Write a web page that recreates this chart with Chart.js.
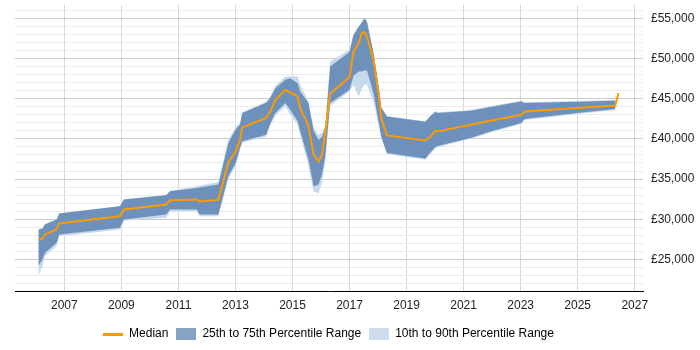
<!DOCTYPE html>
<html>
<script src="https://cdn.jsdelivr.net/npm/chart.js@4/dist/chart.umd.min.js"></script>
<style>
  body { margin: 0; background: #fff; }
</style>
<body>
<canvas id="myChart" width="700" height="350"></canvas>
<script>

// decimal years shared by every series
const years = [
  2006.09, 2006.23, 2006.32, 2006.73, 2006.82, 2008.95, 2009.09, 2010.57, 2010.71, 2011.65,
  2011.74, 2012.40, 2012.75, 2013.01, 2013.16, 2013.24, 2014.08, 2014.22, 2014.40, 2014.75,
  2014.92, 2015.18, 2015.27, 2015.56, 2015.74, 2015.91, 2016.03, 2016.15, 2016.32, 2017.00,
  2017.14, 2017.32, 2017.44, 2017.52, 2017.61, 2017.84, 2018.05, 2018.11, 2018.31, 2019.66,
  2019.83, 2020.01, 2020.09, 2021.24, 2021.94, 2023.02, 2023.14, 2024.98, 2026.32, 2026.43
];

const median = [
  27490, 27570, 28110, 28730, 29470, 30380, 31210, 31830, 32370, 32450,
  32200, 32410, 37080, 38450, 39900, 41420, 42590, 43410, 44860, 46100,
  45760, 45270, 43830, 41630, 38040, 37200, 38040, 40730, 45610, 47680,
  50850, 51900, 53210, 53260, 52720, 49830, 44860, 42590, 40430, 39800,
  40250, 41030, 40930, 41760, 42250, 43000, 43410, 43830, 44150, 45690
];

const p25 = [
  24170, 25000, 25840, 27080, 28110, 28940, 29970, 30590, 31210, 31210,
  30590, 30590, 35340, 37000, 38900, 39690, 40520, 41900, 43210, 44450,
  43620, 42200, 40950, 37420, 34100, 34310, 35500, 37830, 44450, 46100,
  47840, 48370, 48400, 48500, 48500, 45700, 41500, 40300, 38250, 37570,
  38300, 39000, 39100, 40110, 40900, 41970, 42460, 43210, 43710, null
];

const p75 = [
  28730, 28810, 29350, 29970, 30710, 31620, 32450, 32980, 33480, 33900,
  33950, 34310, 39490, 41200, 41800, 43210, 44500, 45100, 46310, 47340,
  47550, 46930, 45890, 44450, 41000, 39900, 40200, 41390, 48990, 50800,
  52930, 53960, 54500, 55000, 54580, 50700, 45800, 43900, 42790, 42130,
  42800, 43350, 43210, 43500, 43950, 44650, 44450, 44600, 44740, null
];

const p10 = [
  22930, 24100, 25410, 26660, 27900, 28730, 29800, 30180, 30950, 31000,
  30380, 30380, 35000, 36700, 38600, 39500, 40300, 41700, 42900, 44000,
  43000, 41800, 40500, 36580, 33480, 33200, 34500, 37200, 44100, 45900,
  46720, 45270, 46300, 46720, 46720, 44600, 41300, 40100, 38100, 37400,
  38100, 38800, 38950, 40000, 40800, 41850, 42350, 43100, 43600, null
];

const p90 = [
  28800, 28900, 29400, 30000, 30750, 31650, 32500, 33050, 33550, 34100,
  34200, 34600, 39900, 41400, 42000, 43300, 44600, 45300, 46600, 47760,
  47760, 47760, 46720, 44650, 41400, 40520, 40800, 41700, 49620, 51100,
  53000, 54000, 54550, 55050, 54650, 50800, 45900, 44000, 42850, 42200,
  42900, 43450, 43300, 43600, 44050, 44750, 44550, 44700, 44850, null
];

const xTicks = [2007, 2009, 2011, 2013, 2015, 2017, 2019, 2021, 2023, 2025, 2027];
// gridline every 1000, label every 5000
const yTicks = [22000, 23000, 24000, 25000, 26000, 27000, 28000, 29000, 30000, 31000,
  32000, 33000, 34000, 35000, 36000, 37000, 38000, 39000, 40000, 41000, 42000, 43000,
  44000, 45000, 46000, 47000, 48000, 49000, 50000, 51000, 52000, 53000, 54000, 55000, 56000];
const legendNames = ['Median', '25th to 75th Percentile Range', '10th to 90th Percentile Range'];

const orange = '#ff9900';
const darkBlue = '#6d91bb';
const lightBlue = '#c7d9ed';
const font = { family: '"Liberation Sans", Arial, sans-serif', size: 12 };

function points(vals) {
  return years.map((y, i) => ({x: y, y: vals[i]}));
}

function swatch(w, h, color) {
  const c = document.createElement('canvas');
  c.width = w;
  c.height = h;
  const g = c.getContext('2d');
  g.fillStyle = color;
  g.fillRect(0, 0, w, h);
  return c;
}

const swatches = [swatch(20, 3, orange), swatch(20, 12, '#87a3c4'), swatch(20, 12, '#cddcec')];

// legend is centred under the plot area, not the whole canvas
const legendShift = {
  id: 'legendShift',
  beforeDraw(chart) {
    const lg = chart.legend;
    if (lg && !lg._shifted) {
      lg.left -= 29;
      lg.right -= 29;
      lg._shifted = true;
    }
  }
};

const data = {
  datasets: [
    {
      label: legendNames[0],
      data: points(median),
      borderColor: orange,
      borderWidth: 2,
      fill: false,
      order: 0,
    },
    {
      label: legendNames[1],
      data: points(p75),
      borderWidth: 0,
      backgroundColor: darkBlue,
      fill: 2,
      order: 1,
    },
    {
      label: 'p25',
      data: points(p25),
      borderWidth: 0,
      fill: false,
      order: 3,
    },
    {
      label: legendNames[2],
      data: points(p90),
      borderWidth: 0,
      backgroundColor: lightBlue,
      fill: 4,
      order: 2,
    },
    {
      label: 'p10',
      data: points(p10),
      borderWidth: 0,
      fill: false,
      order: 4,
    },
  ]
};

const config = {
  type: 'line',
  data: data,
  plugins: [legendShift],
  options: {
    responsive: false,
    animation: false,
    events: [],
    layout: { padding: { left: 15, top: 5, right: 0, bottom: 0 } },
    elements: {
      point: { radius: 0 },
      line: { tension: 0 }
    },
    plugins: {
      tooltip: { enabled: false },
      legend: {
        position: 'bottom',
        labels: {
          usePointStyle: true,
          pointStyleWidth: 20,
          padding: 8,
          color: '#222',
          font: font,
          generateLabels: () => legendNames.map((t, i) => ({
            text: t,
            pointStyle: swatches[i],
            fillStyle: 'transparent',
            strokeStyle: 'transparent',
            lineWidth: 0,
            hidden: false,
            datasetIndex: i,
          }))
        }
      }
    },
    scales: {
      x: {
        type: 'linear',
        min: 2005.27,
        max: 2027.29,
        afterBuildTicks: (scale) => { scale.ticks = xTicks.map(v => ({value: v})); },
        afterFit: (scale) => { scale.paddingLeft = 0; scale.paddingRight = 0; },
        grid: { color: '#d6d6d6', drawTicks: false },
        border: { color: '#000', width: 1 },
        ticks: {
          padding: 7,
          color: '#222',
          maxRotation: 0,
          autoSkip: false,
          font: font,
          callback: (v) => String(v)
        }
      },
      y: {
        position: 'right',
        min: 21000,
        max: 56650,
        afterBuildTicks: (scale) => { scale.ticks = yTicks.map(v => ({value: v})); },
        afterFit: (scale) => {
          scale.width = 57;
          scale.paddingTop = 0;
          scale.paddingBottom = 0;
        },
        grid: {
          drawTicks: false,
          color: (ctx) => (ctx.tick && ctx.tick.value % 5000 === 0) ? '#cccccc' : '#ebebeb'
        },
        border: { display: false },
        ticks: {
          autoSkip: false,
          padding: 8,
          color: '#222',
          font: font,
          callback: (v) => v % 5000 === 0 ? '£' + (v / 1000) + ',000' : ''
        }
      }
    }
  }
};
new Chart('myChart', config);
</script>
</body>
</html>
